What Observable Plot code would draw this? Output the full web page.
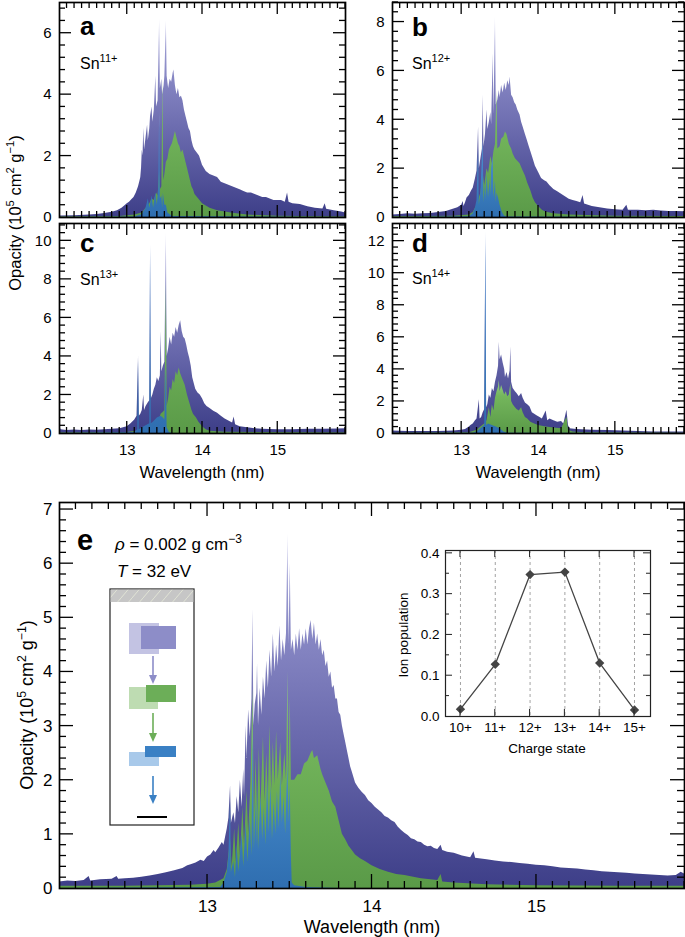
<!DOCTYPE html>
<html>
<head>
<meta charset="utf-8">
<script src="https://cdn.jsdelivr.net/npm/d3@7"></script>
<script src="https://cdn.jsdelivr.net/npm/@observablehq/plot@0.6"></script>
<style>
  body { margin: 0; background: #fff; }
  #fig { position: relative; width: 685px; height: 937px; overflow: hidden;
         font-family: "Liberation Sans", Arial, Helvetica, sans-serif; color: #000; }
  #fig > svg { position: absolute; }
</style>
</head>
<body>
<div id="fig"></div>
<script>
// ---------------- DATA ----------------
// Each spectrum point: [wavelength (nm), opacity (1e5 cm^2/g)]
const a_total = [[12.1,0.05],[12.3,0.06],[12.5,0.08],[12.6,0.1],[12.7,0.13],[12.8,0.17],[12.87,0.22],[12.93,0.3],[12.97,0.38],[13.0,0.45],[13.03,0.5],[13.06,0.58],[13.09,0.65],[13.12,0.8],[13.15,1.0],[13.17,1.2],[13.18,1.3],[13.19,1.6],[13.2,2.2],[13.21,2.0],[13.22,2.9],[13.23,2.2],[13.25,2.6],[13.27,3.0],[13.28,2.5],[13.3,2.9],[13.31,3.3],[13.33,3.6],[13.34,3.1],[13.36,3.5],[13.38,4.6],[13.39,3.6],[13.41,3.8],[13.43,6.45],[13.44,4.2],[13.46,4.5],[13.47,4.0],[13.49,4.3],[13.5,4.6],[13.52,6.4],[13.53,4.6],[13.55,4.2],[13.57,4.5],[13.59,4.4],[13.61,4.7],[13.62,4.8],[13.64,4.3],[13.66,4.0],[13.68,4.2],[13.7,3.9],[13.72,3.95],[13.74,3.8],[13.76,3.5],[13.78,3.3],[13.8,3.1],[13.82,2.9],[13.84,2.8],[13.86,2.5],[13.88,2.3],[13.9,2.2],[13.93,2.1],[13.96,2.0],[14.0,1.7],[14.05,1.5],[14.1,1.4],[14.15,1.35],[14.2,1.3],[14.25,1.15],[14.3,1.1],[14.35,1.05],[14.4,1.0],[14.45,0.95],[14.5,0.9],[14.55,0.85],[14.6,0.8],[14.65,0.8],[14.7,0.75],[14.75,0.7],[14.8,0.65],[14.85,0.65],[14.9,0.6],[14.95,0.55],[15.0,0.55],[15.05,0.55],[15.1,0.5],[15.13,0.8],[15.15,0.5],[15.2,0.45],[15.3,0.42],[15.4,0.35],[15.5,0.3],[15.6,0.28],[15.63,0.45],[15.65,0.27],[15.75,0.22],[15.85,0.18],[15.9,0.15]];
const a_green = [[12.1,0.02],[12.9,0.03],[13.1,0.08],[13.2,0.15],[13.25,0.3],[13.3,0.45],[13.33,0.6],[13.36,0.55],[13.39,0.8],[13.41,0.7],[13.43,1.5],[13.44,0.9],[13.46,1.0],[13.475,4.5],[13.485,1.2],[13.5,1.4],[13.52,1.8],[13.54,1.9],[13.56,2.2],[13.58,2.3],[13.6,2.4],[13.62,2.6],[13.64,2.8],[13.66,2.6],[13.68,2.4],[13.7,2.3],[13.72,2.1],[13.74,2.2],[13.76,2.0],[13.78,1.8],[13.8,1.6],[13.82,1.4],[13.84,1.2],[13.86,1.0],[13.88,0.9],[13.9,0.75],[13.95,0.6],[14.0,0.45],[14.1,0.3],[14.2,0.22],[14.4,0.14],[14.6,0.08],[15.0,0.04],[15.9,0.02]];
const a_blue = [[12.1,0],[13.1,0.02],[13.2,0.1],[13.25,0.3],[13.28,0.6],[13.3,0.3],[13.33,0.7],[13.35,0.3],[13.38,0.8],[13.4,0.4],[13.42,1.0],[13.43,3.4],[13.44,0.6],[13.46,0.7],[13.47,0.3],[13.48,0.8],[13.5,0.4],[13.52,0.4],[13.54,0.15],[13.6,0.03],[15.9,0]];

const b_total = [[12.1,0.1],[12.2,0.12],[12.3,0.15],[12.4,0.13],[12.5,0.15],[12.6,0.16],[12.7,0.2],[12.8,0.25],[12.85,0.3],[12.9,0.35],[12.95,0.4],[13.0,0.5],[13.02,0.65],[13.03,0.45],[13.05,0.6],[13.07,0.8],[13.1,0.9],[13.13,1.1],[13.15,1.2],[13.18,1.6],[13.2,1.9],[13.22,3.7],[13.23,2.0],[13.25,2.4],[13.27,2.8],[13.28,5.0],[13.29,2.9],[13.31,3.4],[13.33,4.4],[13.34,3.6],[13.36,3.9],[13.38,4.3],[13.39,3.8],[13.41,6.7],[13.42,4.2],[13.44,8.2],[13.45,4.6],[13.47,4.8],[13.49,5.2],[13.5,4.9],[13.52,5.4],[13.54,5.1],[13.56,5.5],[13.58,5.2],[13.6,5.6],[13.62,5.4],[13.63,5.75],[13.65,5.0],[13.67,4.9],[13.69,4.7],[13.71,4.6],[13.73,4.4],[13.76,4.2],[13.78,3.9],[13.8,3.7],[13.83,3.4],[13.85,3.2],[13.88,2.9],[13.9,2.7],[13.93,2.4],[13.96,2.1],[14.0,1.85],[14.04,1.6],[14.08,1.5],[14.11,1.45],[14.15,1.3],[14.2,1.15],[14.25,1.05],[14.3,0.95],[14.35,0.85],[14.4,0.75],[14.45,0.7],[14.5,0.65],[14.55,0.6],[14.58,0.9],[14.6,0.55],[14.65,0.5],[14.7,0.45],[14.8,0.4],[14.9,0.35],[15.0,0.32],[15.1,0.3],[15.15,0.5],[15.17,0.3],[15.3,0.3],[15.4,0.28],[15.5,0.3],[15.6,0.27],[15.7,0.25],[15.8,0.25],[15.9,0.24]];
const b_green = [[12.1,0.03],[12.9,0.05],[13.1,0.1],[13.15,0.2],[13.2,0.5],[13.22,0.7],[13.25,1.0],[13.28,1.8],[13.3,1.3],[13.33,2.0],[13.35,1.8],[13.38,2.5],[13.4,2.2],[13.42,2.7],[13.44,3.0],[13.46,5.2],[13.47,2.8],[13.5,2.9],[13.52,3.2],[13.55,3.3],[13.57,3.5],[13.59,3.4],[13.62,3.0],[13.65,2.8],[13.67,2.6],[13.7,2.4],[13.73,2.3],[13.76,2.2],[13.8,1.9],[13.83,1.7],[13.86,1.4],[13.9,1.1],[13.93,0.8],[13.96,0.6],[14.0,0.45],[14.05,0.3],[14.1,0.22],[14.2,0.15],[14.4,0.1],[15.0,0.05],[15.9,0.04]];
const b_blue = [[12.1,0],[13.1,0.03],[13.15,0.15],[13.18,0.4],[13.2,0.7],[13.22,2.8],[13.23,0.5],[13.25,1.0],[13.28,3.2],[13.29,0.6],[13.31,1.4],[13.32,0.7],[13.33,1.8],[13.35,0.8],[13.37,1.6],[13.38,0.9],[13.39,2.0],[13.41,2.5],[13.42,0.8],[13.44,1.5],[13.45,0.6],[13.46,1.0],[13.48,0.8],[13.5,0.5],[13.53,0.2],[13.56,0.05],[13.6,0.02],[15.9,0]];

const c_total = [[12.1,0.4],[12.12,0.2],[12.2,0.15],[12.3,0.18],[12.4,0.15],[12.5,0.18],[12.6,0.17],[12.7,0.2],[12.8,0.22],[12.9,0.25],[12.95,0.3],[13.0,0.35],[13.05,0.5],[13.1,0.7],[13.13,0.9],[13.15,4.0],[13.16,0.9],[13.18,1.0],[13.2,1.2],[13.22,2.0],[13.23,1.2],[13.25,1.4],[13.28,1.6],[13.3,1.7],[13.31,9.8],[13.32,1.8],[13.34,2.0],[13.36,2.3],[13.38,2.5],[13.4,2.9],[13.42,2.7],[13.44,3.0],[13.45,5.3],[13.46,3.2],[13.48,3.5],[13.5,3.7],[13.52,10.4],[13.53,4.0],[13.55,4.4],[13.57,5.0],[13.59,4.6],[13.61,5.2],[13.63,5.0],[13.65,5.5],[13.67,5.2],[13.69,5.6],[13.71,5.85],[13.73,5.3],[13.75,5.0],[13.77,4.9],[13.79,4.6],[13.81,4.2],[13.83,3.9],[13.85,3.5],[13.87,2.9],[13.89,2.6],[13.91,2.3],[13.94,2.1],[13.97,2.0],[14.0,1.8],[14.03,1.55],[14.06,1.4],[14.1,1.3],[14.15,1.15],[14.2,1.05],[14.25,0.9],[14.3,0.75],[14.35,0.65],[14.4,0.55],[14.42,0.85],[14.44,0.45],[14.5,0.35],[14.6,0.3],[14.7,0.25],[14.8,0.22],[15.0,0.2],[15.2,0.2],[15.4,0.22],[15.6,0.22],[15.8,0.24],[15.9,0.25]];
const c_green = [[12.1,0.02],[13.0,0.05],[13.2,0.15],[13.3,0.3],[13.35,0.5],[13.4,0.7],[13.42,0.6],[13.45,1.0],[13.48,1.1],[13.5,1.2],[13.52,7.9],[13.53,1.4],[13.55,1.8],[13.57,2.4],[13.59,2.2],[13.61,2.8],[13.63,2.6],[13.65,3.2],[13.67,3.0],[13.69,3.4],[13.71,3.1],[13.73,2.9],[13.75,2.7],[13.77,2.5],[13.8,2.0],[13.83,1.6],[13.86,1.2],[13.88,1.0],[13.92,0.8],[13.95,0.6],[14.0,0.35],[14.05,0.2],[14.1,0.12],[14.3,0.06],[15.9,0.02]];
const c_blue = [[12.1,0],[13.1,0.05],[13.14,0.2],[13.15,3.8],[13.16,0.2],[13.2,0.3],[13.25,0.4],[13.3,0.5],[13.31,9.8],[13.32,0.5],[13.35,0.6],[13.4,0.8],[13.45,0.9],[13.48,0.8],[13.5,0.7],[13.52,3.5],[13.53,0.3],[13.56,0.05],[13.6,0],[15.9,0]];

const d_total = [[12.1,0.15],[12.3,0.12],[12.5,0.12],[12.7,0.12],[12.9,0.15],[13.0,0.2],[13.05,0.25],[13.1,0.4],[13.12,0.5],[13.15,0.6],[13.18,0.8],[13.2,0.9],[13.23,2.1],[13.24,0.9],[13.26,1.0],[13.28,1.3],[13.3,1.5],[13.315,12.6],[13.325,1.6],[13.34,1.8],[13.36,2.4],[13.38,2.2],[13.4,2.8],[13.42,2.6],[13.44,3.2],[13.46,3.6],[13.48,4.2],[13.49,5.7],[13.5,4.6],[13.52,4.9],[13.54,4.4],[13.56,4.0],[13.57,3.5],[13.59,3.8],[13.61,3.4],[13.63,3.9],[13.64,5.4],[13.65,3.2],[13.67,2.8],[13.7,2.6],[13.72,2.5],[13.75,2.3],[13.78,2.5],[13.8,2.2],[13.83,1.9],[13.86,1.8],[13.89,1.65],[13.92,1.3],[13.95,1.2],[13.98,1.1],[14.02,1.0],[14.05,0.9],[14.1,1.4],[14.12,0.8],[14.15,0.9],[14.2,0.8],[14.25,0.7],[14.3,0.75],[14.33,0.6],[14.37,1.45],[14.39,0.5],[14.41,0.3],[14.5,0.25],[14.7,0.2],[14.9,0.18],[15.1,0.15],[15.3,0.12],[15.5,0.1],[15.7,0.1],[15.9,0.1]];
const d_green = [[12.1,0.02],[13.1,0.05],[13.2,0.2],[13.25,0.4],[13.3,0.6],[13.33,0.8],[13.36,1.6],[13.38,1.0],[13.4,1.8],[13.42,1.4],[13.44,2.2],[13.46,2.6],[13.48,2.9],[13.49,3.3],[13.5,2.6],[13.52,3.0],[13.54,2.7],[13.56,2.4],[13.58,2.6],[13.6,2.3],[13.62,2.4],[13.64,3.1],[13.65,2.0],[13.67,1.8],[13.7,1.6],[13.72,1.5],[13.75,1.4],[13.78,1.6],[13.8,1.3],[13.83,1.0],[13.86,0.9],[13.9,0.7],[13.95,0.6],[14.0,0.5],[14.1,0.4],[14.2,0.35],[14.3,0.3],[14.37,1.0],[14.39,0.2],[14.45,0.1],[14.6,0.05],[15.9,0.02]];
const d_blue = [[12.1,0],[13.15,0.02],[13.2,0.1],[13.25,0.3],[13.3,0.5],[13.315,12.6],[13.325,0.5],[13.35,0.6],[13.4,0.5],[13.45,0.4],[13.5,0.3],[13.55,0.1],[13.6,0.02],[15.9,0]];

const e_total = [[12.1,0.12],[12.15,0.14],[12.2,0.13],[12.25,0.15],[12.28,0.22],[12.29,0.14],[12.35,0.16],[12.42,0.17],[12.45,0.22],[12.46,0.17],[12.5,0.18],[12.55,0.19],[12.6,0.21],[12.65,0.23],[12.7,0.26],[12.75,0.29],[12.8,0.33],[12.85,0.37],[12.88,0.42],[12.9,0.44],[12.93,0.47],[12.96,0.52],[12.98,0.5],[13.0,0.58],[13.02,0.62],[13.04,0.7],[13.05,0.66],[13.07,0.75],[13.09,0.85],[13.1,0.8],[13.11,0.95],[13.12,1.1],[13.13,1.3],[13.14,1.9],[13.145,1.2],[13.16,1.4],[13.17,1.2],[13.18,1.7],[13.19,1.4],[13.2,2.0],[13.21,1.5],[13.22,2.2],[13.225,1.7],[13.235,3.0],[13.24,2.4],[13.25,3.3],[13.26,2.8],[13.27,3.5],[13.276,5.15],[13.282,3.0],[13.29,3.4],[13.3,3.6],[13.304,4.15],[13.31,3.0],[13.32,3.7],[13.33,3.2],[13.34,3.9],[13.35,3.5],[13.36,4.2],[13.37,3.7],[13.38,4.4],[13.39,3.9],[13.4,4.7],[13.41,4.0],[13.42,4.5],[13.43,4.1],[13.44,4.85],[13.45,4.2],[13.46,4.6],[13.47,4.3],[13.48,4.7],[13.489,6.55],[13.495,4.5],[13.503,6.0],[13.51,4.4],[13.52,4.6],[13.53,4.3],[13.54,4.7],[13.55,4.4],[13.56,4.8],[13.57,4.4],[13.58,4.7],[13.59,4.5],[13.6,4.8],[13.61,4.5],[13.62,4.8],[13.63,4.95],[13.64,4.6],[13.65,4.9],[13.66,4.5],[13.67,4.7],[13.68,4.4],[13.69,4.6],[13.7,4.3],[13.71,4.4],[13.72,4.1],[13.73,4.2],[13.74,3.9],[13.75,4.0],[13.76,3.7],[13.77,3.75],[13.78,3.5],[13.79,3.5],[13.8,3.25],[13.81,3.2],[13.82,3.0],[13.83,2.85],[13.84,2.7],[13.85,2.55],[13.86,2.4],[13.87,2.25],[13.88,2.15],[13.89,2.05],[13.9,1.95],[13.92,1.85],[13.94,1.78],[13.96,1.72],[13.98,1.62],[14.0,1.57],[14.02,1.5],[14.04,1.45],[14.06,1.4],[14.08,1.33],[14.1,1.3],[14.12,1.25],[14.14,1.22],[14.16,1.13],[14.18,1.07],[14.2,1.02],[14.22,0.98],[14.24,0.92],[14.26,0.9],[14.28,0.86],[14.3,0.85],[14.32,0.8],[14.34,0.77],[14.36,0.78],[14.38,0.74],[14.4,0.72],[14.42,0.8],[14.43,0.7],[14.46,0.67],[14.5,0.65],[14.55,0.6],[14.6,0.57],[14.62,0.68],[14.63,0.56],[14.7,0.53],[14.75,0.51],[14.8,0.49],[14.85,0.48],[14.9,0.46],[14.95,0.45],[15.0,0.43],[15.05,0.42],[15.1,0.4],[15.15,0.38],[15.2,0.37],[15.25,0.36],[15.3,0.34],[15.35,0.33],[15.4,0.31],[15.45,0.3],[15.5,0.29],[15.55,0.28],[15.6,0.27],[15.65,0.26],[15.7,0.25],[15.75,0.24],[15.8,0.23],[15.85,0.24],[15.88,0.3],[15.9,0.27]];
const e_green = [[12.1,0.04],[12.5,0.04],[12.9,0.06],[13.0,0.08],[13.05,0.1],[13.1,0.18],[13.12,0.35],[13.14,0.9],[13.15,0.4],[13.165,1.1],[13.175,0.5],[13.19,1.2],[13.2,0.6],[13.215,1.5],[13.225,0.8],[13.24,1.8],[13.25,1.0],[13.265,2.0],[13.276,3.7],[13.285,1.3],[13.295,2.4],[13.305,1.4],[13.315,2.6],[13.325,1.5],[13.34,2.8],[13.35,1.6],[13.36,2.5],[13.37,1.7],[13.38,3.0],[13.39,1.8],[13.4,2.7],[13.41,1.9],[13.42,2.9],[13.43,2.0],[13.445,2.7],[13.455,1.9],[13.47,2.5],[13.48,2.0],[13.489,4.0],[13.495,2.0],[13.503,3.5],[13.51,2.0],[13.53,2.0],[13.55,2.1],[13.57,2.1],[13.59,2.3],[13.61,2.35],[13.63,2.5],[13.64,2.55],[13.65,2.4],[13.67,2.45],[13.69,2.2],[13.7,2.1],[13.72,1.95],[13.74,1.8],[13.76,1.6],[13.78,1.5],[13.8,1.25],[13.82,1.0],[13.84,0.9],[13.86,0.78],[13.88,0.7],[13.9,0.62],[13.93,0.55],[13.96,0.5],[14.0,0.42],[14.05,0.35],[14.1,0.3],[14.15,0.26],[14.2,0.24],[14.3,0.18],[14.4,0.15],[14.42,0.26],[14.43,0.12],[14.5,0.1],[14.7,0.07],[15.0,0.05],[15.5,0.04],[15.9,0.04]];
const e_blue = [[12.1,0],[13.08,0.02],[13.1,0.1],[13.12,0.3],[13.13,0.6],[13.14,1.6],[13.145,0.3],[13.16,0.5],[13.17,0.2],[13.18,0.8],[13.19,0.3],[13.21,1.0],[13.22,0.4],[13.235,1.2],[13.245,0.5],[13.26,1.3],[13.27,0.6],[13.276,3.0],[13.285,0.7],[13.295,1.6],[13.3,0.8],[13.304,2.0],[13.31,0.7],[13.325,1.7],[13.335,0.9],[13.345,1.5],[13.355,0.8],[13.365,2.0],[13.375,1.0],[13.385,1.9],[13.395,0.9],[13.405,1.6],[13.415,1.0],[13.425,1.8],[13.435,1.1],[13.445,2.1],[13.455,1.2],[13.465,1.7],[13.475,1.0],[13.483,1.8],[13.489,2.3],[13.495,1.2],[13.503,1.9],[13.51,0.6],[13.515,0.1],[13.53,0.05],[13.6,0.02],[13.8,0],[15.9,0]];

// inset: ion population vs charge state
const chargeStates = [10, 11, 12, 13, 14, 15];
const chargeLabels = ["10+", "11+", "12+", "13+", "14+", "15+"];
const ionPopulation = [0.018, 0.128, 0.348, 0.354, 0.131, 0.016];

// tick labels
const xTickLabels = [13, 14, 15];
const yTicksA = [0, 2, 4, 6];
const yTicksB = [0, 2, 4, 6, 8];
const yTicksC = [0, 2, 4, 6, 8, 10];
const yTicksD = [0, 2, 4, 6, 8, 10, 12];
const yTicksE = [0, 1, 2, 3, 4, 5, 6, 7];
const yTicksInset = [0, 0.1, 0.2, 0.3, 0.4];

// ---------------- drawing ----------------
const fig = document.getElementById("fig");
const FONT = '"Liberation Sans", Arial, Helvetica, sans-serif';
const X_DOMAIN = [12.1, 15.9];
const tickJobs = [];   // frame ticks, drawn afterwards through each plot's own scales

function gradientDefs(id) {
  const defs = d3.create("svg:defs");
  const add = (name, stops) => {
    const g = defs.append("linearGradient").attr("id", id + name)
      .attr("x1", 0).attr("y1", 0).attr("x2", 0).attr("y2", 1);
    for (const [o, c] of stops) g.append("stop").attr("offset", o).attr("stop-color", c);
  };
  add("P", [[0, "#d2d2ee"], [0.12, "#9c9cd2"], [0.3, "#8686c3"], [0.6, "#6767ab"], [1, "#3d3e88"]]);
  add("G", [[0, "#9ad089"], [0.3, "#74b65c"], [1, "#5a9a48"]]);
  add("B", [[0, "#c0dcf4"], [0.15, "#4a90d0"], [1, "#2f6eb0"]]);
  return () => defs.node();
}

function place(node, left, top) {
  node.style.position = "absolute";
  node.style.left = left + "px";
  node.style.top = top + "px";
  node.style.maxWidth = "none";
  fig.appendChild(node);
  return node;
}

function spectrumPlot(cfg) {
  const {id, total, green, blue, yMax, yTicks, yMinorStep, width, height, mL, mR, mT, mB,
         showX, fs, tMaj, tMin, yPad, xPad, left, top} = cfg;
  const xMinor = d3.range(122, 160).map(d => d / 10).filter(d => !xTickLabels.includes(d));
  const nMin = Math.floor(yMax / yMinorStep + 1e-9);
  const yMinor = d3.range(1, nMin + 1).map(i => +(i * yMinorStep).toFixed(3)).filter(v => !yTicks.includes(v));
  const marks = [
    gradientDefs(id),
    Plot.areaY(total, {x: d => d[0], y1: 0, y2: d => d[1], fill: `url(#${id}P)`, curve: "linear"}),
    Plot.areaY(green, {x: d => d[0], y1: 0, y2: d => d[1], fill: `url(#${id}G)`, curve: "linear"}),
    Plot.areaY(blue, {x: d => d[0], y1: 0, y2: d => d[1], fill: `url(#${id}B)`, curve: "linear"}),
    Plot.frame({stroke: "#000", strokeWidth: 1.7}),
    Plot.axisY({ticks: yTicks, tickSize: 0, tickPadding: yPad, fontSize: fs, label: null, tickFormat: d => String(d)})
  ];
  if (showX) marks.push(Plot.axisX({ticks: xTickLabels, tickSize: 0, tickPadding: xPad, fontSize: fs, label: null, tickFormat: d => String(d)}));
  const p = Plot.plot({
    width, height, marginLeft: mL, marginRight: mR, marginTop: mT, marginBottom: mB,
    x: {domain: X_DOMAIN, axis: null},
    y: {domain: [0, yMax], axis: null},
    style: {fontFamily: FONT, color: "#000", background: "transparent", overflow: "visible"},
    marks
  });
  place(p, left, top);
  tickJobs.push({plot: p, left, top, xMaj: xTickLabels, xMin: xMinor, yMaj: yTicks.filter(v => v > 0), yMin: yMinor,
                 lMaj: tMaj, lMin: tMin, sw: 1.3, color: "#000"});
}

const small = {fs: 15, tMaj: 12, tMin: 6, yPad: 8, xPad: 11, yMinorStep: 0.4};
spectrumPlot({...small, id: "pa", total: a_total, green: a_green, blue: a_blue, yMax: 7, yTicks: yTicksA,
  width: 347, height: 225, mL: 59, mR: 2, mT: 2, mB: 8, showX: false, left: 0, top: 0});
spectrumPlot({...small, id: "pb", total: b_total, green: b_green, blue: b_blue, yMax: 8.8, yTicks: yTicksB,
  width: 338, height: 225, mL: 45, mR: 1, mT: 2, mB: 8, showX: false, left: 347, top: 0});
spectrumPlot({...small, id: "pc", total: c_total, green: c_green, blue: c_blue, yMax: 10.9, yTicks: yTicksC,
  width: 347, height: 260, mL: 59, mR: 2, mT: 3, mB: 47, showX: true, left: 0, top: 220});
spectrumPlot({...small, id: "pd", total: d_total, green: d_green, blue: d_blue, yMax: 13.1, yTicks: yTicksD,
  width: 338, height: 260, mL: 45, mR: 1, mT: 3, mB: 47, showX: true, left: 347, top: 220});
spectrumPlot({fs: 17, tMaj: 14, tMin: 7, yPad: 7, xPad: 11, yMinorStep: 0.2, id: "pe",
  total: e_total, green: e_green, blue: e_blue, yMax: 7.13, yTicks: yTicksE,
  width: 685, height: 447, mL: 59, mR: 1, mT: 12, mB: 49, showX: true, left: 0, top: 490});

// inset
(function () {
  const width = 275, height = 220, mL = 60, mR = 10, mT = 10, mB = 44;
  const xDom = [9.57, 15.46], yDom = [0, 0.407];
  const pts = chargeStates.map((c, i) => ({c, v: ionPopulation[i]}));
  const p = Plot.plot({
    width, height, marginLeft: mL, marginRight: mR, marginTop: mT, marginBottom: mB,
    x: {domain: xDom, axis: null},
    y: {domain: yDom, axis: null},
    style: {fontFamily: FONT, color: "#000", background: "transparent"},
    marks: [
      Plot.ruleX(chargeStates, {x: d => d, stroke: "#8a8a8a", strokeWidth: 0.8, strokeDasharray: "3,3"}),
      Plot.line(pts, {x: "c", y: "v", stroke: "#444", strokeWidth: 1.3}),
      Plot.dot(pts, {x: "c", y: "v", symbol: "diamond2", r: 4.2, fill: "#444", stroke: "none"}),
      Plot.frame({stroke: "#222", strokeWidth: 1.2}),
      Plot.axisY({ticks: yTicksInset, tickSize: 0, tickPadding: 6, fontSize: 13.5, label: null, tickFormat: d3.format(".1f")}),
      Plot.axisX({ticks: chargeStates, tickSize: 0, tickPadding: 6, fontSize: 13.5, label: null,
                  tickFormat: d => chargeLabels[chargeStates.indexOf(d)]})
    ]
  });
  place(p, 385, 540);
  tickJobs.push({plot: p, left: 385, top: 540, xMaj: chargeStates, xMin: [], yMaj: [0.1, 0.2, 0.3, 0.4],
                 yMin: [0.05, 0.15, 0.25, 0.35], lMaj: 7, lMin: 4, sw: 1, color: "#222"});
})();

// overlay: panel labels, annotations, axis titles, schematic
const opacityTitle = (fs) => {
  const s = fs * 0.68, d = fs * 0.4;
  return `Opacity (10<tspan dy="${-d}" font-size="${s}">5</tspan><tspan dy="${d}"> cm</tspan><tspan dy="${-d}" font-size="${s}">2</tspan><tspan dy="${d}"> g</tspan><tspan dy="${-d}" font-size="${s}">−1</tspan><tspan dy="${d}">)</tspan>`;
};
const ov = `
<svg id="overlay" width="685" height="937" style="position:absolute;left:0;top:0;pointer-events:none" font-family='${FONT}'>
  <defs>
    <pattern id="hatch" width="11" height="13" patternUnits="userSpaceOnUse">
      <rect width="11" height="13" fill="#c6c6c6"/>
      <path d="M0,13 L11,0" stroke="#e6ead8" stroke-width="0.8"/>
    </pattern>
  </defs>
  <g id="frameTicks"></g>
  <g font-weight="bold" font-size="26">
    <text x="80" y="35">a</text>
    <text x="412" y="36">b</text>
    <text x="80" y="252">c</text>
    <text x="412" y="252">d</text>
    <text x="77" y="550" font-size="29">e</text>
  </g>
  <g font-size="16">
    <text x="80" y="69">Sn<tspan dy="-7" font-size="11">11+</tspan></text>
    <text x="412" y="69">Sn<tspan dy="-7" font-size="11">12+</tspan></text>
    <text x="80" y="285">Sn<tspan dy="-7" font-size="11">13+</tspan></text>
    <text x="412" y="284">Sn<tspan dy="-7" font-size="11">14+</tspan></text>
  </g>
  <text x="115" y="550" font-size="17"><tspan font-style="italic">ρ</tspan> = 0.002 g cm<tspan dy="-7" font-size="12">−3</tspan></text>
  <text x="117" y="577" font-size="17"><tspan font-style="italic">T</tspan> = 32 eV</text>
  <text transform="translate(21,213) rotate(-90)" text-anchor="middle" font-size="16.5">${opacityTitle(16.5)}</text>
  <text transform="translate(33,705) rotate(-90)" text-anchor="middle" font-size="18">${opacityTitle(18)}</text>
  <text x="202" y="478" text-anchor="middle" font-size="16.5">Wavelength (nm)</text>
  <text x="538" y="478" text-anchor="middle" font-size="16.5">Wavelength (nm)</text>
  <text x="372" y="933" text-anchor="middle" font-size="18">Wavelength (nm)</text>
  <text transform="translate(408,635) rotate(-90)" text-anchor="middle" font-size="13.5">Ion population</text>
  <text x="547" y="753" text-anchor="middle" font-size="13.5">Charge state</text>
  <g>
    <rect x="110" y="589" width="84" height="236" fill="#fff" stroke="#222" stroke-width="1.2"/>
    <rect x="110.6" y="589.6" width="82.8" height="12.4" fill="url(#hatch)"/>
    <rect x="129" y="623" width="30" height="31" fill="#c3c3e3"/>
    <rect x="141" y="626" width="35" height="23" fill="#8d8dc8"/>
    <line x1="153" y1="656" x2="153" y2="676" stroke="#8d8dc8" stroke-width="1.6"/>
    <path d="M149,675 L157,675 L153,684 Z" fill="#8d8dc8"/>
    <rect x="129" y="687" width="29" height="22" fill="#bedcb2"/>
    <rect x="146" y="685" width="30" height="17" fill="#6cae58"/>
    <line x1="153" y1="713" x2="153" y2="734" stroke="#6cae58" stroke-width="1.6"/>
    <path d="M149,733 L157,733 L153,742 Z" fill="#6cae58"/>
    <rect x="129" y="752" width="30" height="14" fill="#a8c9ea"/>
    <rect x="145" y="746" width="31" height="11" fill="#3a80c4"/>
    <line x1="153" y1="776" x2="153" y2="796" stroke="#3a80c4" stroke-width="1.6"/>
    <path d="M149,795 L157,795 L153,804 Z" fill="#3a80c4"/>
    <line x1="137" y1="817" x2="167" y2="817" stroke="#000" stroke-width="2"/>
  </g>
</svg>`;
fig.insertAdjacentHTML("beforeend", ov);

// inward frame ticks on all four sides, positioned by each plot's x and y scales
const tg = d3.select("#frameTicks");
for (const job of tickJobs) {
  const sx = job.plot.scale("x"), sy = job.plot.scale("y");
  const X = v => job.left + sx.apply(v), Y = v => job.top + sy.apply(v);
  const fl = job.left + Math.min(...sx.range), fr = job.left + Math.max(...sx.range);
  const fb = job.top + Math.max(...sy.range), ft = job.top + Math.min(...sy.range);
  const g = tg.append("g").attr("stroke", job.color).attr("stroke-width", job.sw);
  for (const [arr, L] of [[job.xMin, job.lMin], [job.xMaj, job.lMaj]]) {
    for (const v of arr) {
      const px = X(v);
      g.append("line").attr("x1", px).attr("x2", px).attr("y1", fb).attr("y2", fb - L);
      g.append("line").attr("x1", px).attr("x2", px).attr("y1", ft).attr("y2", ft + L);
    }
  }
  for (const [arr, L] of [[job.yMin, job.lMin], [job.yMaj, job.lMaj]]) {
    for (const v of arr) {
      const py = Y(v);
      g.append("line").attr("x1", fl).attr("x2", fl + L).attr("y1", py).attr("y2", py);
      g.append("line").attr("x1", fr).attr("x2", fr - L).attr("y1", py).attr("y2", py);
    }
  }
}
</script>
</body>
</html>
